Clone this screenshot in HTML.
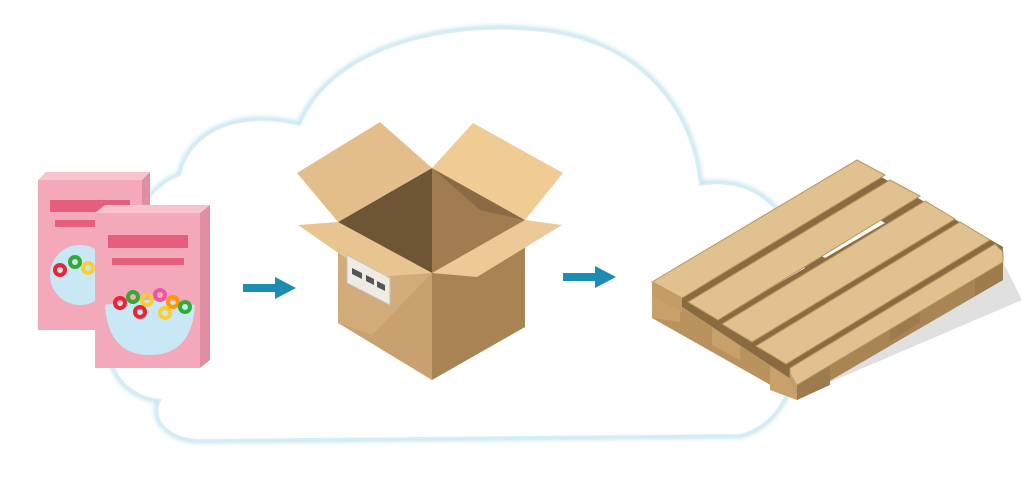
<!DOCTYPE html>
<html><head><style>html,body{margin:0;padding:0;background:#fff;width:1024px;height:482px;overflow:hidden}</style></head>
<body>
<svg width="1024" height="482" viewBox="0 0 1024 482" xmlns="http://www.w3.org/2000/svg">
<defs>
<filter id="glow" x="-10%" y="-10%" width="120%" height="120%"><feGaussianBlur stdDeviation="2.5"/></filter>
</defs>
<!-- cloud -->
<g fill="#fff" stroke="#bfe2ee" stroke-width="6" filter="url(#glow)">
<path d="M160,400 C110,395 95,340 130,310 C110,250 140,190 180,175 C190,130 240,110 300,125 C330,50 440,22 530,30 C620,35 690,90 700,185 C750,175 800,210 790,270 C810,330 800,420 740,435 L200,440 C170,440 150,420 160,400 Z"/>
</g>
<path d="M160,400 C110,395 95,340 130,310 C110,250 140,190 180,175 C190,130 240,110 300,125 C330,50 440,22 530,30 C620,35 690,90 700,185 C750,175 800,210 790,270 C810,330 800,420 740,435 L200,440 C170,440 150,420 160,400 Z" fill="#fff" stroke="#d6eef5" stroke-width="2"/>
<!-- cereal back box -->
<polygon points="38,180 142,180 150,172 46,172" fill="#f7c3cf"/>
<polygon points="142,180 150,172 150,290 142,298" fill="#e08fa3"/>
<rect x="38" y="180" width="104" height="150" fill="#f4a9bb"/>
<rect x="50" y="200" width="80" height="12" fill="#e55f7c"/>
<rect x="55" y="220" width="60" height="7" fill="#e55f7c"/>
<ellipse cx="80" cy="275" rx="30" ry="30" fill="#c8e8f5"/>
<!-- front box -->
<polygon points="95,213 200,213 210,205 105,205" fill="#f7c3cf"/>
<polygon points="200,213 210,205 210,360 200,368" fill="#e08fa3"/>
<rect x="95" y="213" width="105" height="155" fill="#f4a9bb"/>
<rect x="108" y="235" width="80" height="13" fill="#e55f7c"/>
<rect x="112" y="258" width="72" height="7" fill="#e55f7c"/>
<path d="M105,305 Q150,295 195,305 Q192,355 150,355 Q108,355 105,305 Z" fill="#c8e8f5"/>
<g fill="none" stroke-width="4">
<circle cx="120" cy="303" r="5" stroke="#e23"/><circle cx="133" cy="297" r="5" stroke="#3a3"/><circle cx="147" cy="300" r="5" stroke="#fc3"/><circle cx="160" cy="295" r="5" stroke="#e5a"/><circle cx="173" cy="302" r="5" stroke="#f90"/><circle cx="185" cy="307" r="5" stroke="#3a3"/><circle cx="140" cy="312" r="5" stroke="#e23"/><circle cx="165" cy="313" r="5" stroke="#fc3"/>
<circle cx="60" cy="270" r="5" stroke="#e23"/><circle cx="75" cy="262" r="5" stroke="#3a3"/><circle cx="88" cy="268" r="5" stroke="#fc3"/>
</g>
<!-- arrows -->
<g fill="#1b8db3">
<rect x="243" y="284" width="34" height="8"/><polygon points="275,277 296,288 275,299"/>
<rect x="563" y="273" width="34" height="8"/><polygon points="595,266 616,277 595,288"/>
</g>
<!-- cardboard box -->
<polygon points="338,222 432,273 432,380 338,323" fill="#c9a070"/>
<polygon points="338,222 432,273 372,335 338,323" fill="#d2ab7a"/>
<polygon points="432,273 525,220 525,327 432,380" fill="#a88455"/>
<polygon points="338,222 432,168 432,273" fill="#6e5535"/>
<polygon points="432,168 525,220 432,273" fill="#8b6b45"/>
<polygon points="432,168 480,210 525,220 432,273" fill="#a07c50"/>
<polygon points="338,222 297,173 380,122 432,168" fill="#e3be8b"/>
<polygon points="432,168 473,123 563,173 525,220" fill="#f0cb94"/>
<polygon points="338,222 298,225 373,277 432,273" fill="#e8c590"/>
<polygon points="432,273 525,220 562,225 477,277" fill="#ecc996"/>
<polygon points="347,255 390,278 390,305 347,283" fill="#eeebe4" stroke="#c8c2b6" stroke-width="1"/>
<g fill="#555"><polygon points="352,268 362,273 362,279 352,274"/><polygon points="366,275 374,279 374,285 366,281"/><polygon points="377,281 385,285 385,291 377,287"/></g>
<!-- pallet -->
<polygon points="700,330 800,395 1022,300 1003,262" fill="#ccc" opacity="0.6"/>
<!-- legs -->
<polygon points="652,287 797,383 797,400 652,318" fill="#b9925e"/>
<polygon points="797,383 1003,247 1003,280 797,400" fill="#a98553"/>
<g fill="#c8a06a">
<polygon points="652,287 680,304 680,322 652,318"/>
<polygon points="712,324 740,341 740,360 712,345"/>
<polygon points="770,366 797,383 797,400 770,390"/>
</g>
<g fill="#9d7b4d">
<polygon points="797,383 830,362 830,385 797,400"/>
<polygon points="890,322 920,302 920,322 890,342"/>
<polygon points="975,265 1003,247 1003,280 975,296"/>
</g>
<!-- stringers under (gaps) -->
<polygon points="652,287 857,163 1003,247 797,383" fill="#8a6a40"/>
<g fill="#fff">
<polygon points="730,306 800,265 805,268 735,309"/>
<polygon points="820,255 880,220 885,223 825,258"/>
<polygon points="790,345 855,306 860,309 795,348"/>
<polygon points="880,290 945,250 950,253 885,293"/>
</g>
<!-- top planks -->
<g fill="#e0c18f" stroke="#b8935c" stroke-width="1">
<polygon points="652,282 857,160 885,175 682,298"/>
<polygon points="688,302 890,180 920,196 718,320"/>
<polygon points="722,324 925,201 955,219 752,342"/>
<polygon points="756,346 960,222 990,240 786,364"/>
<polygon points="790,368 995,244 1003,252 1003,262 797,385 790,380"/>
</g>
<g fill="#c39c66">
<polygon points="652,282 682,298 682,312 652,296"/>
<polygon points="790,372 797,385 797,395 790,382"/>
</g>
</svg>
</body></html>
